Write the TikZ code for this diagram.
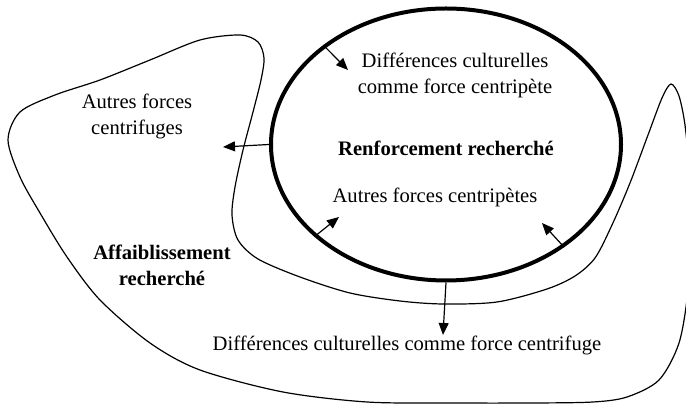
\documentclass[tikz,border=0pt]{standalone}
\usepackage{fontspec}
\setmainfont{Liberation Serif}
\usetikzlibrary{arrows.meta, positioning, shapes.geometric}

\begin{document}
\begin{tikzpicture}[x=0.5pt, y=-0.5pt, >={Triangle[length=6pt,width=5pt]},
  txt/.style={align=center, inner sep=0pt, font=\fontsize{10.3}{13}\selectfont},
  bld/.style={txt, font=\fontsize{10.3}{13}\selectfont\bfseries},
  frc/.style={->, line width=0.6pt}]
\useasboundingbox (0,0) rectangle (686,405);
% outer zone
\draw[line width=0.6pt] plot[smooth cycle, tension=0.5] coordinates {
  (8,140) (20,112) (55,95) (100,80) (150,60) (200,40) (240,35) (258,42)
  (264,58) (261,80) (253,112) (243,150) (235,187) (232,215) (238,240)
  (258,259) (300,277) (350,293) (400,301) (443,304) (497,302) (547,289)
  (575,276) (595,258) (612,225) (630,183) (648,135) (662,98) (671,84)
  (679,96) (685,125) (689,170) (690,230) (688,290) (679,343) (659,380)
  (627,397) (593,402) (533,403) (450,403) (367,402) (283,392) (200,370)
  (150,343) (100,300) (67,257) (40,213) (20,177)};
\node[draw, ellipse, line width=2pt, inner sep=0pt,
  minimum width=175pt, minimum height=136pt] (core) at (446,144.5) {};
\node[txt] (cpete) at (455,75) {Différences culturelles\\comme force centripète};
\node[bld] (renf) at (446,148) {Renforcement recherché};
\node[txt] (autpete) at (435,197) {Autres forces centripètes};
\node[txt] (autfuge) at (137,116) {Autres forces\\centrifuges};
\node[bld] (affai) at (162,265) {Affaiblissement\\recherché};
\node[txt] (cfuge) at (407,345) {Différences culturelles comme force centrifuge};
% forces
\coordinate (tpete) at (348,70);
\coordinate (tfuge) at (223,147);
\coordinate (tautl) at (339,217);
\coordinate (tautr) at (542,223);
\coordinate (tbas) at (443,335);
\draw[frc] (core.141.5) -- (tpete);
\draw[frc] (core.180) -- (tfuge);
\draw[frc] (core.215) -- (tautl);
\draw[frc] (core.319.7) -- (tautr);
\draw[frc] (core.270) -- (tbas);
\end{tikzpicture}
\end{document}
